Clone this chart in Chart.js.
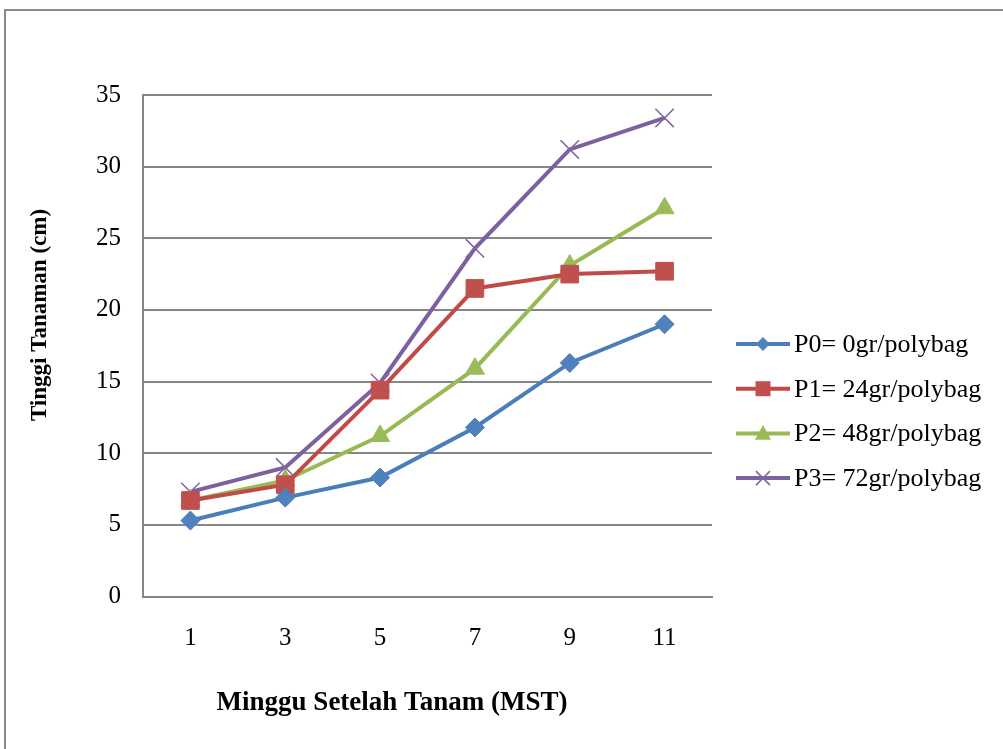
<!DOCTYPE html>
<html>
<head>
<meta charset="utf-8">
<script src="https://cdn.jsdelivr.net/npm/chart.js@4/dist/chart.umd.min.js"></script>
<style>
  html, body { margin: 0; padding: 0; background: #ffffff; }
  canvas { display: block; }
</style>
</head>
<body>
<canvas id="chart" width="1003" height="749"></canvas>
<script>
// Weeks after planting (MST)
const weeks = ['1', '3', '5', '7', '9', '11'];

// Plant height (cm) per treatment
const p0Values = [5.3, 6.9, 8.3, 11.8, 16.3, 19.0];
const p1Values = [6.7, 7.8, 14.4, 21.5, 22.5, 22.7];
const p2Values = [6.7, 8.1, 11.2, 15.9, 23.1, 27.1];
const p3Values = [7.3, 9.0, 14.9, 24.3, 31.2, 33.4];

const seriesNames = ['P0= 0gr/polybag', 'P1= 24gr/polybag', 'P2= 48gr/polybag', 'P3= 72gr/polybag'];

const yTicks = [0, 5, 10, 15, 20, 25, 30, 35];

const xTitle = 'Minggu Setelah Tanam (MST)';
const yTitle = 'Tinggi Tanaman (cm)';

const SERIF = '"Liberation Serif", "Times New Roman", serif';
const GRID = '#868686';

const styles = [
  { line: '#4A7EBB', fill: '#4F81BD', point: 'rectRot',  radius: 9.5,  pw: 1 },
  { line: '#BE4B48', fill: '#C0504D', point: 'rect',     radius: 12.5, pw: 1 },
  { line: '#98B954', fill: '#9BBB59', point: 'triangle', radius: 11,   pw: 1 },
  { line: '#7D60A0', fill: '#8064A2', point: 'crossRot', radius: 13,   pw: 1.5 }
];

const seriesData = [p0Values, p1Values, p2Values, p3Values];

const datasets = seriesData.map((vals, i) => ({
  label: seriesNames[i],
  data: vals,
  borderColor: styles[i].line,
  backgroundColor: styles[i].fill,
  borderWidth: 4,
  pointStyle: styles[i].point,
  pointRadius: styles[i].radius,
  pointHoverRadius: styles[i].radius,
  pointBackgroundColor: styles[i].fill,
  pointBorderColor: styles[i].fill,
  pointBorderWidth: styles[i].pw,
  tension: 0,
  clip: false
}));

// Small legend marker drawn next to each series name
function legendMarker(ctx, style, x, y) {
  ctx.save();
  ctx.fillStyle = style.fill;
  ctx.strokeStyle = style.fill;
  ctx.beginPath();
  if (style.point === 'rectRot') {
    const r = 7;
    ctx.moveTo(x - r, y); ctx.lineTo(x, y - r); ctx.lineTo(x + r, y); ctx.lineTo(x, y + r);
    ctx.closePath(); ctx.fill();
  } else if (style.point === 'rect') {
    const s = 7.5;
    ctx.rect(x - s, y - s, 2 * s, 2 * s); ctx.fill();
  } else if (style.point === 'triangle') {
    const r = 8.5;
    ctx.moveTo(x, y - r); ctx.lineTo(x + r * 0.95, y + r * 0.75); ctx.lineTo(x - r * 0.95, y + r * 0.75);
    ctx.closePath(); ctx.fill();
  } else {
    const r = 7;
    ctx.lineWidth = 1.5;
    ctx.moveTo(x - r, y - r); ctx.lineTo(x + r, y + r);
    ctx.moveTo(x + r, y - r); ctx.lineTo(x - r, y + r);
    ctx.stroke();
  }
  ctx.restore();
}

const decorations = {
  id: 'decorations',
  beforeDraw(chart) {
    const ctx = chart.ctx;
    ctx.save();
    ctx.fillStyle = '#ffffff';
    ctx.fillRect(0, 0, chart.width, chart.height);
    ctx.strokeStyle = '#8a8a8a';
    ctx.lineWidth = 2;
    ctx.strokeRect(5, 10, chart.width + 20, chart.height + 20);
    ctx.restore();
  },
  afterDraw(chart) {
    const ctx = chart.ctx;
    ctx.save();
    // axis titles
    ctx.fillStyle = '#000000';
    ctx.textAlign = 'center';
    ctx.textBaseline = 'middle';
    ctx.font = 'bold 27px ' + SERIF;
    ctx.fillText(xTitle, 392, 703);
    ctx.save();
    ctx.translate(40, 315);
    ctx.rotate(-Math.PI / 2);
    ctx.font = 'bold 23px ' + SERIF;
    ctx.fillText(yTitle, 0, 0);
    ctx.restore();

    // legend
    ctx.textAlign = 'left';
    ctx.font = '26px ' + SERIF;
    chart.data.datasets.forEach((ds, i) => {
      const y = 344 + i * 44.7;
      ctx.strokeStyle = styles[i].line;
      ctx.lineWidth = 4;
      ctx.beginPath();
      ctx.moveTo(736, y);
      ctx.lineTo(790, y);
      ctx.stroke();
      legendMarker(ctx, styles[i], 763, y);
      ctx.fillStyle = '#000000';
      ctx.fillText(ds.label, 794, y + 1);
    });
    ctx.restore();
  }
};

new Chart(document.getElementById('chart'), {
  type: 'line',
  data: { labels: weeks, datasets },
  options: {
    responsive: false,
    animation: false,
    devicePixelRatio: 1,
    layout: { padding: { top: 95, right: 291, left: 0, bottom: 0 } },
    plugins: {
      legend: { display: false },
      tooltip: { enabled: false },
      title: { display: false }
    },
    scales: {
      x: {
        offset: true,
        grid: { display: false, drawTicks: false },
        border: { display: true, color: GRID, width: 2 },
        ticks: {
          color: '#000000',
          font: { family: SERIF, size: 25 },
          padding: 27,
          maxRotation: 0
        },
        afterFit(scale) { scale.height = 152.5; }
      },
      y: {
        min: 0,
        max: 35,
        afterBuildTicks(scale) { scale.ticks = yTicks.map(v => ({ value: v })); },
        grid: { color: GRID, lineWidth: 2, drawTicks: false },
        border: { display: true, color: GRID, width: 2 },
        ticks: {
          color: '#000000',
          font: { family: SERIF, size: 25 },
          padding: 22
        },
        afterFit(scale) { scale.width = 143; }
      }
    }
  },
  plugins: [decorations]
});
</script>
</body>
</html>
